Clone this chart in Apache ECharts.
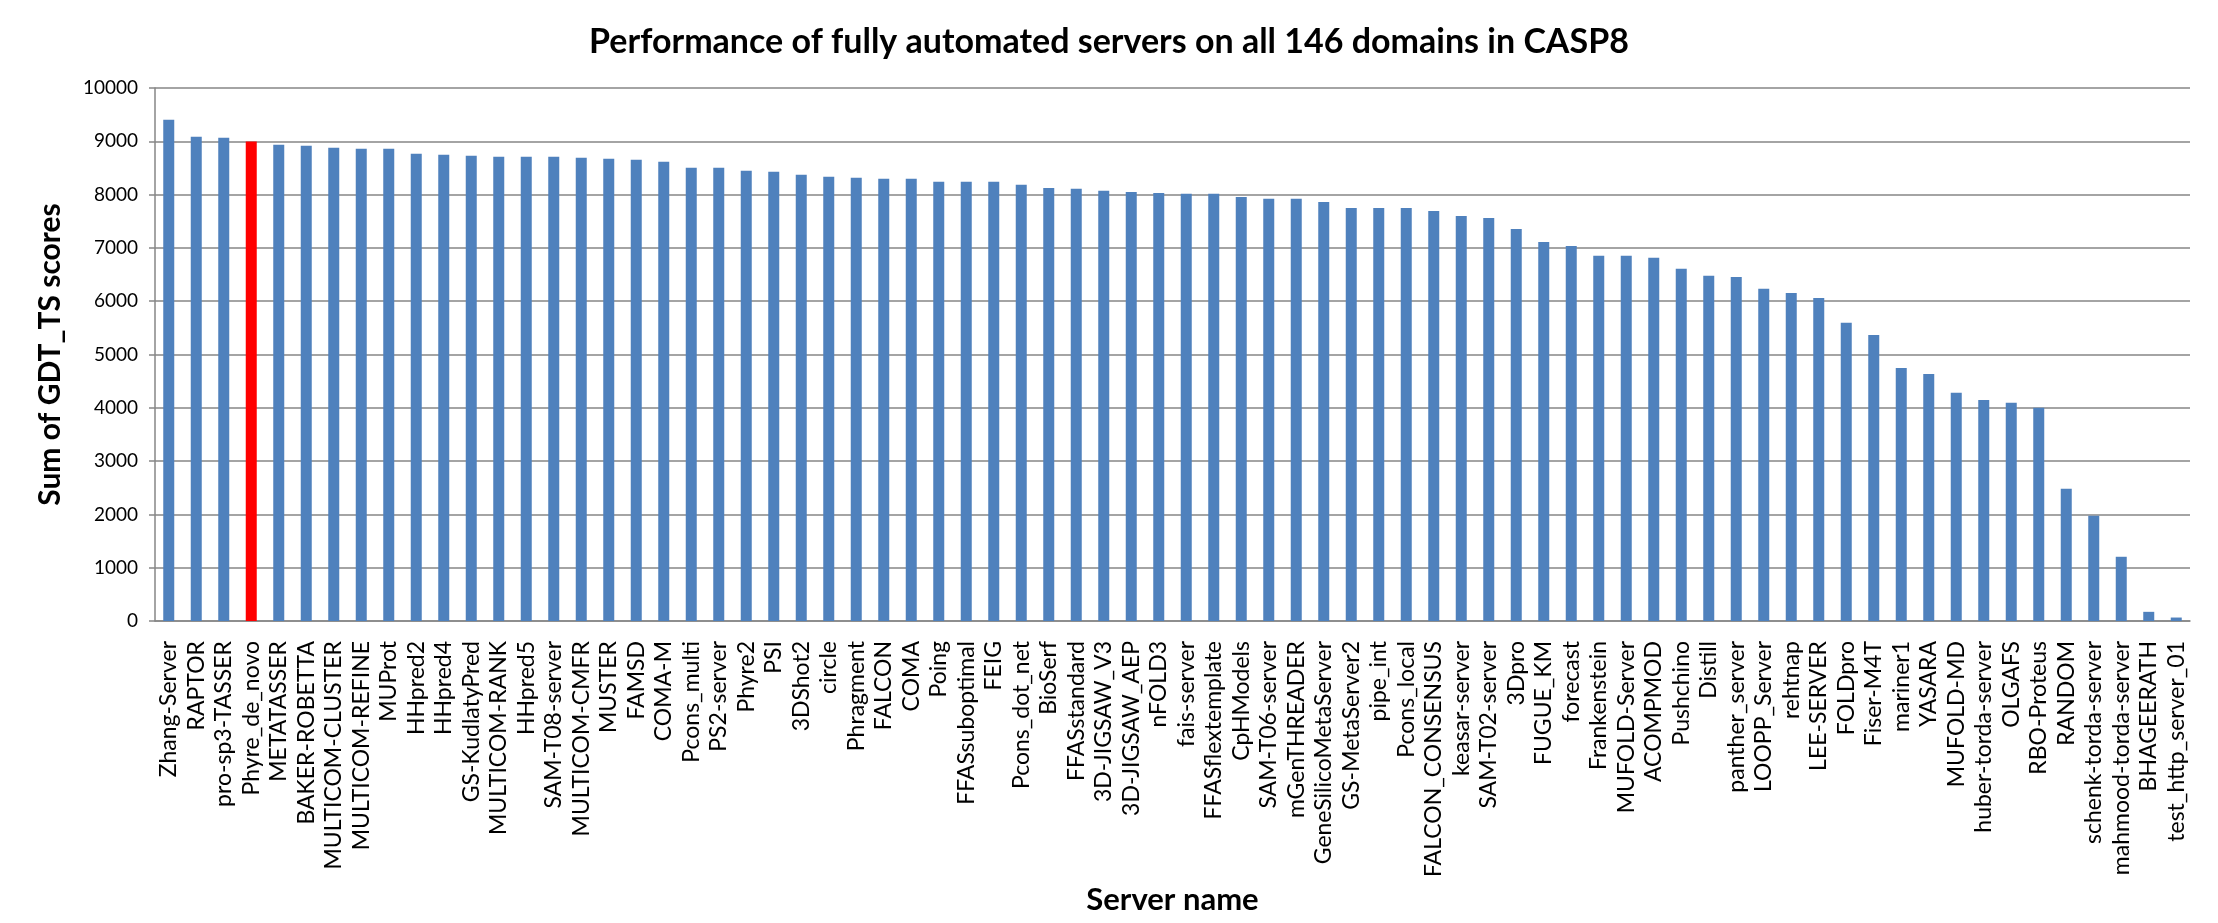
<!DOCTYPE html>
<html>
<head>
<meta charset="utf-8">
<script src="https://cdn.jsdelivr.net/npm/echarts@6/dist/echarts.min.js"></script>
<style>html,body{margin:0;padding:0;background:#fff}#chart{width:2218px;height:923px}</style>
</head>
<body>
<div id="chart"></div>
<script>
const servers = ["Zhang-Server","RAPTOR","pro-sp3-TASSER","Phyre_de_novo","METATASSER","BAKER-ROBETTA","MULTICOM-CLUSTER","MULTICOM-REFINE","MUProt","HHpred2","HHpred4","GS-KudlatyPred","MULTICOM-RANK","HHpred5","SAM-T08-server","MULTICOM-CMFR","MUSTER","FAMSD","COMA-M","Pcons_multi","PS2-server","Phyre2","PSI","3DShot2","circle","Phragment","FALCON","COMA","Poing","FFASsuboptimal","FEIG","Pcons_dot_net","BioSerf","FFASstandard","3D-JIGSAW_V3","3D-JIGSAW_AEP","nFOLD3","fais-server","FFASflextemplate","CpHModels","SAM-T06-server","mGenTHREADER","GeneSilicoMetaServer","GS-MetaServer2","pipe_int","Pcons_local","FALCON_CONSENSUS","keasar-server","SAM-T02-server","3Dpro","FUGUE_KM","forecast","Frankenstein","MUFOLD-Server","ACOMPMOD","Pushchino","Distill","panther_server","LOOPP_Server","rehtnap","LEE-SERVER","FOLDpro","Fiser-M4T","mariner1","YASARA","MUFOLD-MD","huber-torda-server","OLGAFS","RBO-Proteus","RANDOM","schenk-torda-server","mahmood-torda-server","BHAGEERATH","test_http_server_01"];
const gdtSums = [9405,9085,9066,8997,8935,8916,8878,8860,8860,8766,8747,8728,8709,8709,8709,8690,8672,8653,8615,8502,8502,8446,8427,8371,8333,8314,8296,8296,8239,8239,8239,8183,8126,8108,8070,8051,8032,8014,8014,7957,7920,7920,7863,7750,7750,7750,7692,7597,7561,7353,7109,7037,6851,6851,6815,6607,6478,6456,6234,6155,6062,5595,5366,4749,4634,4283,4146,4096,4003,2482,1973,1205,172,65];
const highlighted = "Phyre_de_novo";
const yTicks = {min: 0, max: 10000, interval: 1000};

const chart = echarts.init(document.getElementById('chart'), null, {renderer: 'canvas'});
const font = 'Lato, "Liberation Sans", sans-serif';
chart.setOption({
  animation: false,
  backgroundColor: '#ffffff',
  title: {
    text: 'Performance of fully automated servers on all 146 domains in CASP8',
    left: 'center', top: 20,
    textStyle: {fontFamily: font, fontWeight: 'bold', fontSize: 34, color: '#000'}
  },
  grid: {left: 155, right: 28, top: 88, bottom: 302, containLabel: false},
  xAxis: {
    type: 'category',
    data: servers,
    name: 'Server name',
    nameLocation: 'middle',
    nameGap: 242,
    nameTextStyle: {fontFamily: font, fontWeight: 'bold', fontSize: 31, color: '#000'},
    axisLine: {lineStyle: {color: '#868686', width: 1.5}},
    axisTick: {show: false},
    axisLabel: {interval: 0, rotate: 90, margin: 20, fontFamily: font, fontSize: 23, color: '#000'},
    splitLine: {show: false}
  },
  yAxis: {
    type: 'value',
    min: yTicks.min, max: yTicks.max, interval: yTicks.interval,
    name: 'Sum of GDT_TS scores',
    nameLocation: 'middle',
    nameGap: 90,
    nameRotate: 90,
    nameTextStyle: {fontFamily: font, fontWeight: 'bold', fontSize: 30, color: '#000'},
    axisLine: {show: true, lineStyle: {color: '#868686', width: 1.5}},
    axisTick: {show: true, length: 6, lineStyle: {color: '#868686', width: 1.5}},
    axisLabel: {margin: 17, fontFamily: font, fontSize: 19, color: '#000', formatter: function (v) { return String(v); }},
    splitLine: {lineStyle: {color: '#868686', width: 1.5}}
  },
  series: [{
    type: 'bar',
    data: gdtSums,
    barWidth: 11,
    itemStyle: {
      color: function (p) { return servers[p.dataIndex] === highlighted ? '#FF0000' : '#4F81BD'; }
    }
  }]
});
</script>
</body>
</html>
